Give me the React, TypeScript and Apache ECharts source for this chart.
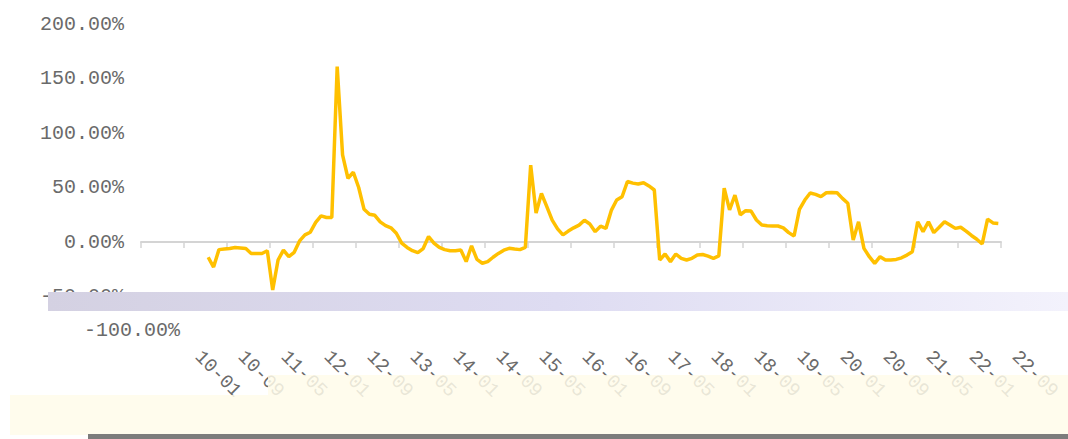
import React, { useEffect, useRef } from "react";
import * as echarts from "echarts";

// Monthly categories 2010-01 .. 2023-04 (label format YY-MM)
const startYear = 2010;
const monthCount = 160;
const categories: string[] = [];
for (let k = 0; k < monthCount; k++) {
  const y = startYear + Math.floor(k / 12);
  const m = (k % 12) + 1;
  categories.push(String(y).slice(2) + "-" + String(m).padStart(2, "0"));
}

// Values (%) from 2011-01 to 2023-04
const leadingEmpty = 12;
const values2011on: number[] = [
  -14, -23, -7, -6.5, -6, -5, -5.5, -6, -10.5, -10.5, -10.5, -8,
  -44, -16.5, -7.5, -13.5, -9.5, 1, 6.5, 9, 18, 24, 22.5, 22.5,
  161, 80, 58.5, 64, 50, 30, 25.5, 24.5, 18.5, 15, 13, 8,
  -1, -5, -8, -9.8, -6, 5, -1, -5, -7, -8, -8, -7.3,
  -18, -3.5, -16, -19.5, -18, -14, -10.5, -7.5, -5.8, -6.5, -7, -5,
  70.5, 26.5, 44.5, 32.5, 20, 12, 6.5, 10, 13, 15.5, 20, 16.5,
  9.5, 14.5, 12.5, 29, 38.5, 41.5, 55.5, 54, 53.2, 54.4, 51.4, 47.7,
  -16.5, -11, -18, -11, -15, -16.5, -15, -12, -11.5, -13, -15, -12.8,
  49.3, 29.4, 43, 25, 28.7, 28.4, 20.2, 15.6, 15, 14.7, 14.7, 13,
  8.6, 5.5, 30, 38.5, 45, 43.7, 41.6, 45.2, 45.5, 45.2, 40, 35.5,
  1.8, 18.6, -5.8, -13.5, -19.6, -13.5, -16.5, -16.5, -16, -14.5, -12, -9,
  18.6, 9.5, 18.6, 8.6, 13.5, 18.6, 15.6, 12.5, 13.5, 10, 6, 2.5,
  -1.8, 21, 17.5, 17,
];
const seriesValues: (number | null)[] = [
  ...new Array(leadingEmpty).fill(null),
  ...values2011on,
];

const yMin = -100;
const yMax = 200;
const yStep = 50;

const labelFont = "Liberation Mono";
const labelColor = "#6a6a6a";

export default function App() {
  const ref = useRef<HTMLDivElement>(null);
  useEffect(() => {
    document.body.style.margin = "0";
    if (!ref.current) return;
    const chart = echarts.init(ref.current, null, { renderer: "svg" });
    const fmt = (v: number) => v.toFixed(2) + "%";
    chart.setOption({
      animation: false,
      backgroundColor: "#ffffff",
      grid: [
        { left: 141, right: 67, top: 24, bottom: 88 },
        { left: 195, right: 13, top: 3, bottom: 109 },
      ],
      xAxis: [
        {
          type: "category",
          gridIndex: 0,
          data: categories,
          boundaryGap: true,
          axisLine: { onZero: true, lineStyle: { color: "#d4d4d4", width: 2 } },
          axisTick: { show: true, interval: 7, length: 6, lineStyle: { color: "#d4d4d4", width: 1.5 } },
          axisLabel: { show: false },
          splitLine: { show: false },
        },
        {
          type: "category",
          gridIndex: 1,
          data: categories,
          boundaryGap: true,
          axisLine: { show: false },
          axisTick: { show: false },
          axisLabel: {
            show: true,
            interval: 7,
            rotate: -45,
            margin: 24,
            fontFamily: labelFont,
            fontSize: 19,
            color: labelColor,
          },
          splitLine: { show: false },
        },
      ],
      yAxis: [
        {
          type: "value",
          gridIndex: 0,
          min: yMin,
          max: yMax,
          interval: yStep,
          axisLine: { show: false },
          axisTick: { show: false },
          splitLine: { show: false },
          axisLabel: {
            margin: 17,
            fontFamily: labelFont,
            fontSize: 20,
            color: labelColor,
            formatter: (v: number) => (v === yMin ? "" : fmt(v)),
          },
        },
        {
          type: "value",
          gridIndex: 1,
          min: yMin,
          max: yMax,
          interval: yStep,
          axisLine: { show: false },
          axisTick: { show: false },
          splitLine: { show: false },
          axisLabel: {
            margin: 15,
            fontFamily: labelFont,
            fontSize: 20,
            color: labelColor,
            formatter: (v: number) => (v === yMin ? fmt(v) : ""),
          },
        },
      ],
      series: [
        {
          type: "line",
          xAxisIndex: 0,
          yAxisIndex: 0,
          data: seriesValues,
          showSymbol: false,
          symbol: "none",
          connectNulls: false,
          lineStyle: { color: "#FFC000", width: 3.5 },
          itemStyle: { color: "#FFC000" },
          z: 5,
        },
      ],
      graphic: [
        {
          type: "rect",
          z: 100,
          shape: { x: 48, y: 292, width: 1020, height: 19 },
          style: {
            fill: new echarts.graphic.LinearGradient(0, 0, 1, 0, [
              { offset: 0, color: "#d4d1e2" },
              { offset: 0.5, color: "#dedcf2" },
              { offset: 1, color: "#f3f2fc" },
            ]),
          },
        },
        {
          type: "rect",
          z: 100,
          shape: { x: 10, y: 395, width: 258, height: 40 },
          style: { fill: "rgba(255,251,234,0.85)" },
        },
        {
          type: "rect",
          z: 100,
          shape: { x: 268, y: 375, width: 800, height: 60 },
          style: { fill: "rgba(255,251,234,0.85)" },
        },
        {
          type: "rect",
          z: 101,
          shape: { x: 88, y: 434, width: 980, height: 5 },
          style: { fill: "#7c7c7c" },
        },
      ],
    });
    return () => chart.dispose();
  }, []);
  return <div ref={ref} style={{ width: 1068, height: 439 }} />;
}
